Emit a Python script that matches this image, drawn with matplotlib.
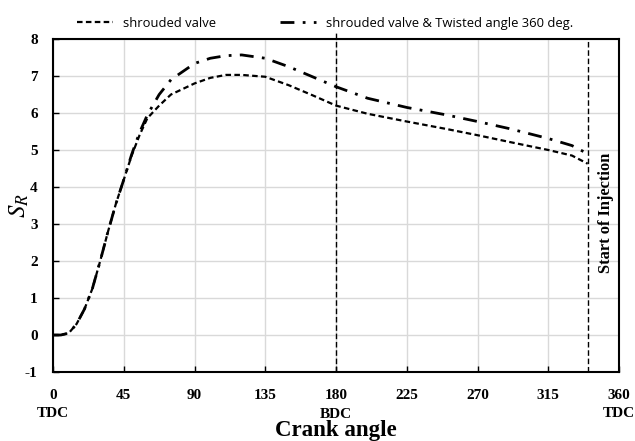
import matplotlib
matplotlib.use('Agg')
import matplotlib.pyplot as plt

angle = [0, 5, 10, 15, 20, 25, 30, 35, 40, 45, 50, 55, 60, 67.5, 75, 90, 100, 110,
         120, 135, 150, 165, 180, 200, 225, 250, 270, 290, 315, 330, 340]
shrouded = [0, 0.0, 0.05, 0.3, 0.7, 1.25, 2.0, 2.8, 3.55, 4.2, 4.85, 5.4, 5.86, 6.2,
            6.5, 6.8, 6.95, 7.03, 7.03, 6.98, 6.75, 6.48, 6.2, 5.98, 5.77, 5.57, 5.4,
            5.22, 5.0, 4.85, 4.63]
twisted = [0, 0.0, 0.05, 0.3, 0.7, 1.25, 2.0, 2.8, 3.55, 4.2, 4.88, 5.47, 5.95, 6.5,
           6.9, 7.34, 7.48, 7.55, 7.57, 7.48, 7.25, 6.98, 6.71, 6.4, 6.15, 5.95, 5.77,
           5.58, 5.31, 5.12, 4.9]
xticks = [0, 45, 90, 135, 180, 225, 270, 315, 360]
yticks = [-1, 0, 1, 2, 3, 4, 5, 6, 7, 8]
bdc = 180
injection = 340

serif = 'Liberation Serif'
plt.rcParams['mathtext.fontset'] = 'stix'
plt.rcParams['axes.unicode_minus'] = False

fig = plt.figure(figsize=(6.35, 4.41), dpi=100)
ax = fig.add_axes([0.0835, 0.1565, 0.8915, 0.755])

ax.plot(angle, shrouded, color='black', lw=1.6, linestyle=(0, (2.5, 1.5)),
        label='shrouded valve')
ax.plot(angle, twisted, color='black', lw=2.0, linestyle=(0, (5, 3, 1, 3)),
        label='shrouded valve & Twisted angle 360 deg.')

ax.axvline(bdc, ymin=0, ymax=1.02, color='black', lw=1.0, linestyle=(0, (4, 2)),
           clip_on=False)
ax.axvline(injection, color='black', lw=1.0, linestyle=(0, (4, 2)))
ax.text(351.5, 3.3, 'Start of Injection', rotation=90, ha='center', va='center',
        fontsize=11.8, fontweight='bold', family=serif)

ax.set_xlim(0, 360)
ax.set_ylim(-1, 8)
ax.set_xticks(xticks)
ax.set_yticks(yticks)
ax.grid(True, color='#d9d9d9', lw=1.0)
ax.set_axisbelow(True)
for s in ax.spines.values():
    s.set_linewidth(1.5)
ax.tick_params(axis='both', length=4, width=1, direction='in')
ax.tick_params(axis='x', pad=12)
ax.tick_params(axis='y', pad=11)
for lab in ax.get_xticklabels() + ax.get_yticklabels():
    lab.set_fontfamily(serif)
    lab.set_fontweight('bold')
    lab.set_fontsize(11)

ax.text(0, -2.11, 'TDC', ha='center', va='center', fontsize=11, fontweight='bold', family=serif)
ax.text(360, -2.11, 'TDC', ha='center', va='center', fontsize=11, fontweight='bold', family=serif)
ax.text(180, -2.14, 'BDC', ha='center', va='center', fontsize=11, fontweight='bold', family=serif)
ax.set_xlabel('Crank angle', fontsize=16.5, fontweight='bold', family=serif)
ax.xaxis.set_label_coords(0.5, -0.176)
ax.xaxis.label.set_verticalalignment('center')
ax.set_ylabel('$S_R$', fontsize=18, family=serif)
ax.yaxis.set_label_coords(-0.06, 0.5)
ax.yaxis.label.set_verticalalignment('center')

ax.legend(loc='center left', bbox_to_anchor=(0.0424, 1.048), ncol=2, frameon=False,
          prop={'family': 'Open Sans', 'size': 9.4}, handlelength=2.76,
          columnspacing=4.9, handletextpad=0.77, borderpad=0, borderaxespad=0)

fig.savefig('out.png', dpi=100)
